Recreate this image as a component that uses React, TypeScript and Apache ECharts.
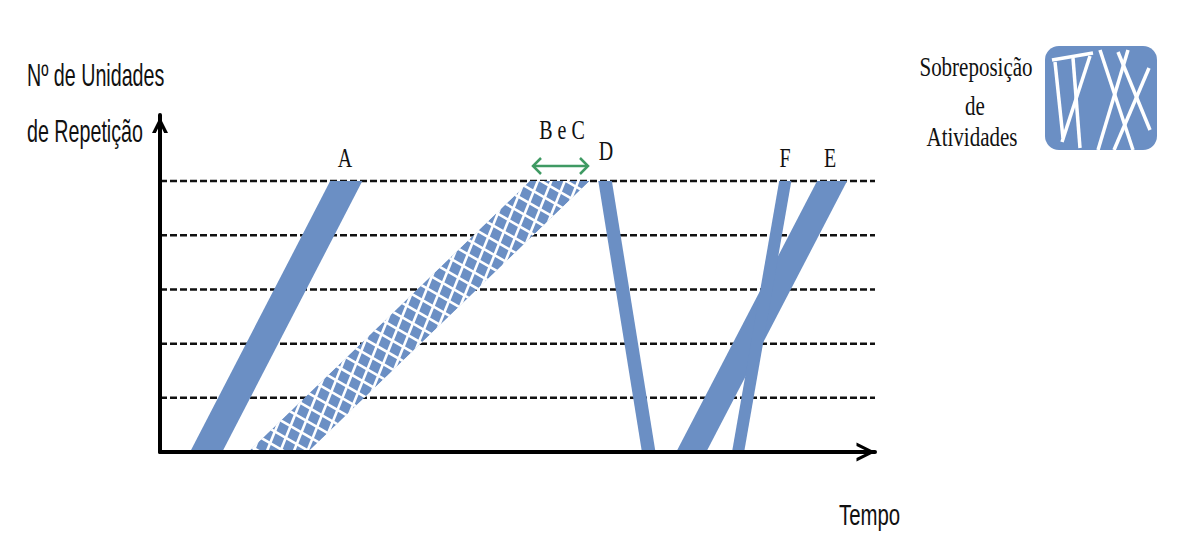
import React, { useEffect, useRef } from "react";
import * as echarts from "echarts";

// ---- data ----
const activities = ["A", "B e C", "D", "E", "F"];
const startBottom = [4.2, 12.3, 67.4, 72.2, 80.0]; // time at unit 0
const startTop = [23.8, 51.7, 61.3, 91.9, 86.6]; // time at last unit
const durations = [4.5, 8.4, 1.9, 4.2, 1.7];
const overlapping = [false, true, false, false, false];
const unitLevels = [1, 2, 3, 4, 5];
const lastUnit = 5;
const timeMax = 100;
const unitMax = 6.22;

const BLUE = "#6b8fc4";
const SANS = "'Liberation Sans', Arial, sans-serif";
const SERIF = "'Liberation Serif', 'DejaVu Serif', serif";

const chevronX = "path://M0,10 L5,0 L10,10 L8.2,10 L5,3.6 L1.8,10 Z";
const chevronY = "path://M0,10 L5,0 L10,10 L7.6,10 L5,4.5 L2.4,10 Z";

function hatchLines(pts: number[][], angles: number[], spacing: number) {
  const xs = pts.map((p) => p[0]);
  const ys = pts.map((p) => p[1]);
  const minX = Math.min(...xs), maxX = Math.max(...xs);
  const minY = Math.min(...ys), maxY = Math.max(...ys);
  const L = Math.hypot(maxX - minX, maxY - minY);
  const cx = (minX + maxX) / 2, cy = (minY + maxY) / 2;
  const out: any[] = [];
  angles.forEach((deg) => {
    const a = (deg * Math.PI) / 180;
    const d = [Math.cos(a), -Math.sin(a)];
    const n = [Math.sin(a), Math.cos(a)];
    const corners = [[minX, minY], [maxX, minY], [maxX, maxY], [minX, maxY]];
    const proj = corners.map((c) => c[0] * n[0] + c[1] * n[1]);
    const pmin = Math.min(...proj), pmax = Math.max(...proj);
    for (let p = pmin + spacing / 2; p < pmax; p += spacing) {
      const c = [n[0] * p, n[1] * p];
      const t = (cx - c[0]) * d[0] + (cy - c[1]) * d[1];
      const m = [c[0] + d[0] * t, c[1] + d[1] * t];
      out.push({
        type: "line",
        shape: { x1: m[0] - d[0] * L, y1: m[1] - d[1] * L, x2: m[0] + d[0] * L, y2: m[1] + d[1] * L },
        style: { stroke: "#ffffff", lineWidth: 2.6 },
      });
    }
  });
  return out;
}

export default function App() {
  const ref = useRef<HTMLDivElement>(null);
  useEffect(() => {
    if (!ref.current) return;
    const chart = echarts.init(ref.current, undefined, { renderer: "svg" });

    const textEl = (
      text: string,
      x: number,
      y: number,
      size: number,
      family: string,
      align: string,
      sx: number,
      sy: number
    ) => ({
      type: "text",
      x,
      y,
      scaleX: sx,
      scaleY: sy,
      style: { text, fontSize: size, fontFamily: family, fill: "#111", textAlign: align, verticalAlign: "middle" },
      z: 20,
    });

    const legendLines = [
      [1052, 60, 1093, 53],
      [1055, 62, 1063, 138],
      [1073, 58, 1080, 148],
      [1090, 56, 1062, 142],
      [1100, 50, 1133, 150],
      [1128, 50, 1098, 150],
      [1149, 68, 1114, 150],
      [1118, 52, 1150, 130],
    ];

    chart.setOption({
      animation: false,
      backgroundColor: "#ffffff",
      grid: { left: 160, right: 303, top: 115, bottom: 89, containLabel: false },
      xAxis: {
        type: "value",
        min: 0,
        max: timeMax,
        z: 10,
        axisLine: {
          show: true,
          onZero: false,
          lineStyle: { color: "#000", width: 4 },
          symbol: ["none", chevronX],
          symbolSize: [33, 19],
          symbolOffset: [0, -9],
        },
        axisTick: { show: false },
        axisLabel: { show: false },
        splitLine: { show: false },
      },
      yAxis: {
        type: "value",
        min: 0,
        max: unitMax,
        z: 10,
        axisLine: {
          show: true,
          onZero: false,
          lineStyle: { color: "#000", width: 4 },
          symbol: ["none", chevronY],
          symbolSize: [16, 22],
          symbolOffset: [0, -10],
        },
        axisTick: { show: false },
        axisLabel: { show: false },
        splitLine: { show: false },
      },
      series: [
        {
          type: "custom",
          name: "levels",
          z: 1,
          data: unitLevels,
          renderItem: (params: any, api: any) => {
            const u = api.value(0);
            const p0 = api.coord([0, u]);
            const p1 = api.coord([timeMax, u]);
            return {
              type: "line",
              shape: { x1: p0[0], y1: p0[1], x2: p1[0], y2: p1[1] },
              style: { stroke: "#111", lineWidth: 2.5, lineDash: [7, 3] },
            };
          },
        },
        {
          type: "custom",
          name: "activities",
          z: 3,
          data: activities.map((a, i) => [startBottom[i], startTop[i], durations[i], overlapping[i] ? 1 : 0]),
          renderItem: (params: any, api: any) => {
            const sb = api.value(0);
            const st = api.value(1);
            const du = api.value(2);
            const hatched = api.value(3) === 1;
            const pts = [
              api.coord([sb, 0]),
              api.coord([sb + du, 0]),
              api.coord([st + du, lastUnit]),
              api.coord([st, lastUnit]),
            ];
            const poly = { type: "polygon", shape: { points: pts }, style: { fill: BLUE } };
            if (!hatched) return poly;
            return {
              type: "group",
              children: [poly, ...hatchLines(pts, [68, 150], 12.5)],
              clipPath: { type: "polygon", shape: { points: pts } },
            };
          },
        },
      ],
      graphic: [
        textEl("Nº de Unidades", 27, 75, 24, SANS, "left", 0.82, 1.3),
        textEl("de Repetição", 27, 131, 24, SANS, "left", 0.82, 1.3),
        textEl("Tempo", 839, 514, 24, SANS, "left", 0.85, 1.25),
        textEl("A", 345, 158, 20, SERIF, "center", 1, 1.35),
        textEl("B e C", 562, 130, 20, SERIF, "center", 1, 1.35),
        textEl("D", 606, 151, 20, SERIF, "center", 1, 1.35),
        textEl("F", 785, 158, 20, SERIF, "center", 1, 1.35),
        textEl("E", 830, 158, 20, SERIF, "center", 1, 1.35),
        textEl("Sobreposição", 976, 66, 21, SERIF, "center", 1, 1.3),
        textEl("de", 975, 105, 21, SERIF, "center", 1, 1.3),
        textEl("Atividades", 972, 136, 21, SERIF, "center", 1, 1.3),
        {
          type: "line",
          shape: { x1: 533, y1: 166, x2: 588, y2: 166 },
          style: { stroke: "#3f9a63", lineWidth: 2.5 },
          z: 20,
        },
        {
          type: "polyline",
          shape: { points: [[541, 158], [533, 166], [541, 174]] },
          style: { stroke: "#3f9a63", lineWidth: 2.5, fill: "none" },
          z: 20,
        },
        {
          type: "polyline",
          shape: { points: [[580, 158], [588, 166], [580, 174]] },
          style: { stroke: "#3f9a63", lineWidth: 2.5, fill: "none" },
          z: 20,
        },
        {
          type: "rect",
          shape: { x: 1045, y: 46, width: 112, height: 104, r: 14 },
          style: { fill: BLUE },
          z: 20,
        },
        ...legendLines.map((l) => ({
          type: "line",
          shape: { x1: l[0], y1: l[1], x2: l[2], y2: l[3] },
          style: { stroke: "#ffffff", lineWidth: 3.5 },
          z: 21,
        })),
      ],
    });
    return () => chart.dispose();
  }, []);
  return (
    <div
      ref={ref}
      style={{ position: "fixed", left: 0, top: 0, width: 1178, height: 541, background: "#fff" }}
    />
  );
}
